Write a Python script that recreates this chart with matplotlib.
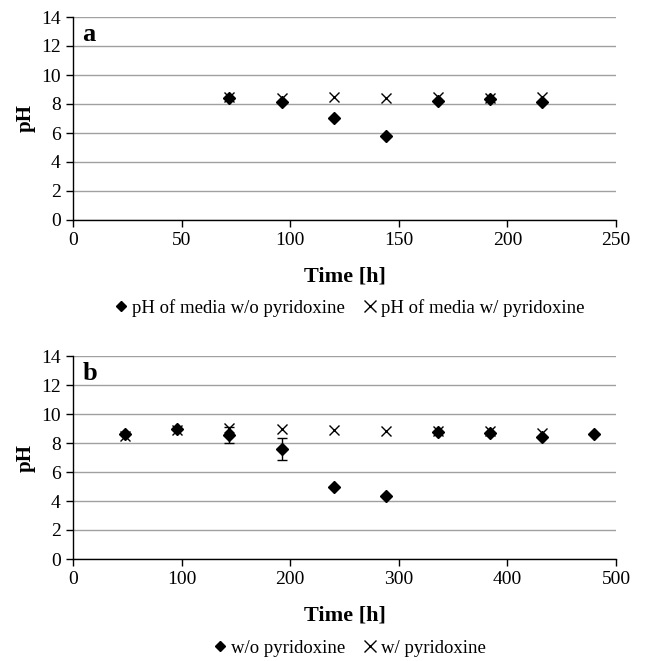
import matplotlib
matplotlib.use("Agg")
import matplotlib.pyplot as plt
from matplotlib.lines import Line2D

plt.rcParams['font.family'] = ['Liberation Serif', 'DejaVu Serif']

# panel a data
time_a = [72, 96, 120, 144, 168, 192, 216]
ph_without_a = [8.44, 8.14, 7.06, 5.82, 8.23, 8.34, 8.11]
ph_with_a = [8.46, 8.41, 8.46, 8.44, 8.46, 8.44, 8.46]

# panel b data
time_b = [48, 96, 144, 192, 240, 288, 336, 384, 432, 480]
ph_without_b = [8.62, 8.97, 8.55, 7.6, 5.0, 4.36, 8.74, 8.67, 8.44, 8.64]
err_without_b = [0, 0, 0.55, 0.75, 0, 0, 0, 0, 0, 0]
time_b_with = [48, 96, 144, 192, 240, 288, 336, 384, 432]
ph_with_b = [8.45, 8.92, 9.01, 8.97, 8.92, 8.82, 8.8, 8.8, 8.69]

W, H = 645, 661
fig = plt.figure(figsize=(W / 100, H / 100), dpi=100)

diamond = dict(marker='D', color='black', markersize=6.5, linestyle='none')
cross = dict(marker='x', color='black', markersize=7, markeredgewidth=1, linestyle='none')


def style_axes(ax, xmax, xstep, letter):
    ax.set_xlim(0, xmax)
    ax.set_ylim(0, 14)
    ax.set_yticks(range(0, 15, 2))
    ax.set_xticks(range(0, xmax + 1, xstep))
    ax.grid(axis='y', color='#a0a0a0', linewidth=1)
    ax.set_axisbelow(True)
    for s in ['top', 'right']:
        ax.spines[s].set_visible(False)
    for s in ['left', 'bottom']:
        ax.spines[s].set_linewidth(1)
    ax.tick_params(direction='out', length=5, width=1, labelsize=14, pad=4)
    ax.set_xlabel('Time [h]', fontsize=16, fontweight='bold', labelpad=12)
    ax.set_ylabel('pH', fontsize=15, fontweight='bold', labelpad=4)
    ax.text(0.017, 0.88, letter, transform=ax.transAxes, fontsize=19,
            fontweight='bold', va='baseline')


def add_legend(labels, y):
    handles = [Line2D([], [], marker='D', color='black', markersize=5.5, linestyle='none'),
               Line2D([], [], marker='x', color='black', markersize=8,
                      markeredgewidth=1, linestyle='none')]
    fig.legend(handles, labels, loc='center', bbox_to_anchor=(350 / W, 1 - y / H),
               ncol=2, frameon=False, fontsize=13.5, handlelength=0.6,
               handletextpad=0.3, columnspacing=1.0)


ax_a = fig.add_axes([73 / W, 1 - 220 / H, 543 / W, 203 / H])
style_axes(ax_a, 250, 50, 'a')
ax_a.plot(time_a, ph_without_a, **diamond)
ax_a.plot(time_a, ph_with_a, **cross)
add_legend(['pH of media w/o pyridoxine', 'pH of media w/ pyridoxine'], 308)

ax_b = fig.add_axes([73 / W, 1 - 559 / H, 543 / W, 203 / H])
style_axes(ax_b, 500, 100, 'b')
ax_b.errorbar(time_b, ph_without_b, yerr=err_without_b, fmt='D', color='black',
              markersize=6.5, ecolor='black', elinewidth=1, capsize=3.5)
ax_b.plot(time_b_with, ph_with_b, **cross)
add_legend(['w/o pyridoxine', 'w/ pyridoxine'], 648)

fig.savefig('out.png', dpi=100)
